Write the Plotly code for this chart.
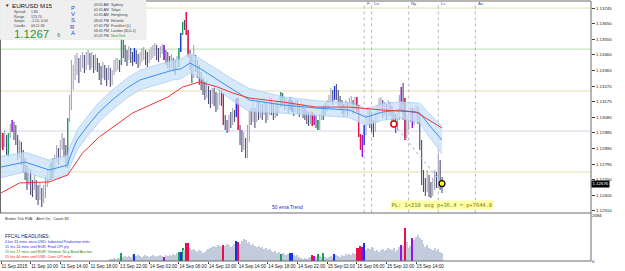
import plotly.graph_objects as go

# ---------------- data ----------------
close = [
1.12941,1.12911,1.12954,1.12880,1.12972,1.13015,1.13051,1.13002,1.12941,1.12880,
1.12911,1.12820,1.12789,1.12747,1.12698,1.12722,1.12667,1.12649,1.12686,1.12625,
1.12588,1.12637,1.12576,1.12606,1.12667,1.12710,1.12728,1.12789,1.12759,1.12820,
1.12868,1.12832,1.12893,1.12941,1.12880,1.12820,1.13063,1.13155,1.13276,1.13337,
1.13380,1.13429,1.13368,1.13416,1.13441,1.13398,1.13429,1.13459,1.13410,1.13441,
1.13392,1.13429,1.13398,1.13356,1.13337,1.13380,1.13349,1.13319,1.13368,1.13307,
1.13337,1.13380,1.13398,1.13416,1.13398,1.13550,1.13490,1.13459,1.13441,1.13477,
1.13453,1.13429,1.13465,1.13447,1.13416,1.13441,1.13459,1.13477,1.13447,1.13429,
1.13453,1.13471,1.13490,1.13502,1.13477,1.13459,1.13490,1.13514,1.13477,1.13441,
1.13429,1.13410,1.13429,1.13398,1.13380,1.13416,1.13490,1.13581,1.13648,1.13636,
1.13611,1.13459,1.13416,1.13337,1.13429,1.13398,1.13368,1.13319,1.13295,1.13258,
1.13234,1.13258,1.13209,1.13185,1.13222,1.13197,1.13155,1.13185,1.13215,1.13197,
1.13051,1.13033,1.13002,1.13063,1.13051,1.13094,1.13081,1.13185,1.13015,1.12972,
1.12911,1.12941,1.12850,1.12941,1.13094,1.13075,1.13112,1.13063,1.13155,1.13094,
1.13136,1.13112,1.13161,1.13075,1.13124,1.13185,1.13136,1.13094,1.13155,1.13124,
1.13173,1.13228,1.13185,1.13155,1.13167,1.13136,1.13173,1.13148,1.13124,1.13161,
1.13136,1.13112,1.13148,1.13112,1.13094,1.13075,1.13063,1.13088,1.13051,1.13075,
1.13033,1.13015,1.13063,1.13094,1.13142,1.13124,1.13155,1.13185,1.13215,1.13197,
1.13246,1.13234,1.13185,1.13173,1.13136,1.13112,1.13148,1.13124,1.13161,1.13185,
1.13136,1.13167,1.13124,1.12966,1.12893,1.12941,1.13002,1.13063,1.13112,1.13075,
1.13033,1.13002,1.13063,1.13124,1.13155,1.13185,1.13112,1.13136,1.13094,1.13155,
1.13124,1.13094,1.13063,1.13033,1.13075,1.13155,1.13215,1.13185,1.13002,1.13033,
1.13075,1.13112,1.13063,1.13094,1.13124,1.13075,1.12911,1.12698,1.12667,1.12637,
1.12710,1.12625,1.12606,1.12667,1.12728,1.12698,1.12820,1.12710,1.12676]

high = [
1.12990,1.12984,1.13002,1.12972,1.12984,1.13039,1.13063,1.13051,1.13033,1.12972,
1.12941,1.12929,1.12880,1.12832,1.12789,1.12771,1.12759,1.12698,1.12728,1.12698,
1.12667,1.12680,1.12649,1.12667,1.12728,1.12759,1.12789,1.12807,1.12832,1.12850,
1.12911,1.12893,1.12941,1.12984,1.12954,1.12911,1.13075,1.13215,1.13429,1.13398,
1.13459,1.13471,1.13441,1.13459,1.13477,1.13459,1.13477,1.13490,1.13471,1.13477,
1.13459,1.13465,1.13441,1.13410,1.13392,1.13416,1.13398,1.13380,1.13398,1.13380,
1.13368,1.13429,1.13441,1.13441,1.13429,1.13575,1.13538,1.13520,1.13490,1.13514,
1.13502,1.13477,1.13502,1.13490,1.13465,1.13477,1.13502,1.13508,1.13490,1.13477,
1.13490,1.13508,1.13520,1.13532,1.13520,1.13502,1.13514,1.13526,1.13520,1.13490,
1.13477,1.13453,1.13465,1.13441,1.13429,1.13453,1.13502,1.13593,1.13660,1.13672,
1.13721,1.13611,1.13490,1.13459,1.13520,1.13459,1.13429,1.13398,1.13356,1.13319,
1.13295,1.13307,1.13270,1.13246,1.13258,1.13258,1.13234,1.13228,1.13258,1.13246,
1.13228,1.13094,1.13063,1.13094,1.13112,1.13136,1.13124,1.13197,1.13197,1.13033,
1.13002,1.12990,1.12954,1.13033,1.13124,1.13136,1.13173,1.13136,1.13185,1.13173,
1.13185,1.13161,1.13197,1.13173,1.13167,1.13209,1.13197,1.13161,1.13185,1.13173,
1.13209,1.13234,1.13222,1.13203,1.13197,1.13185,1.13203,1.13185,1.13173,1.13191,
1.13185,1.13161,1.13185,1.13161,1.13136,1.13124,1.13112,1.13124,1.13112,1.13100,
1.13088,1.13063,1.13100,1.13136,1.13155,1.13167,1.13185,1.13215,1.13258,1.13246,
1.13270,1.13282,1.13246,1.13209,1.13185,1.13161,1.13185,1.13173,1.13197,1.13209,
1.13185,1.13203,1.13203,1.13155,1.12978,1.12972,1.13033,1.13094,1.13142,1.13124,
1.13112,1.13063,1.13112,1.13155,1.13197,1.13203,1.13185,1.13173,1.13161,1.13185,
1.13173,1.13148,1.13124,1.13100,1.13124,1.13215,1.13264,1.13289,1.13197,1.13094,
1.13124,1.13142,1.13136,1.13136,1.13155,1.13142,1.13094,1.12941,1.12759,1.12710,
1.12759,1.12728,1.12686,1.12710,1.12759,1.12747,1.12862,1.12820,1.12716]

low = [
1.12893,1.12880,1.12899,1.12850,1.12838,1.12954,1.12990,1.12941,1.12911,1.12820,
1.12832,1.12789,1.12740,1.12698,1.12637,1.12667,1.12606,1.12594,1.12637,1.12576,
1.12546,1.12576,1.12533,1.12558,1.12588,1.12655,1.12686,1.12698,1.12710,1.12747,
1.12807,1.12789,1.12820,1.12880,1.12832,1.12771,1.12771,1.13051,1.13124,1.13246,
1.13307,1.13337,1.13289,1.13356,1.13380,1.13349,1.13368,1.13398,1.13368,1.13380,
1.13349,1.13368,1.13356,1.13307,1.13276,1.13319,1.13307,1.13270,1.13307,1.13264,
1.13276,1.13337,1.13356,1.13368,1.13356,1.13398,1.13441,1.13416,1.13392,1.13429,
1.13410,1.13392,1.13416,1.13404,1.13380,1.13392,1.13416,1.13429,1.13398,1.13386,
1.13410,1.13429,1.13441,1.13453,1.13429,1.13416,1.13441,1.13465,1.13429,1.13398,
1.13380,1.13368,1.13380,1.13356,1.13337,1.13368,1.13386,1.13477,1.13581,1.13611,
1.13581,1.13447,1.13368,1.13289,1.13319,1.13356,1.13319,1.13276,1.13246,1.13215,
1.13185,1.13197,1.13161,1.13136,1.13161,1.13148,1.13112,1.13124,1.13155,1.13148,
1.13033,1.13002,1.12984,1.12990,1.13015,1.13033,1.13051,1.13081,1.13002,1.12911,
1.12868,1.12880,1.12832,1.12832,1.12929,1.13033,1.13051,1.13015,1.13051,1.13063,
1.13075,1.13063,1.13094,1.13045,1.13063,1.13094,1.13094,1.13063,1.13075,1.13088,
1.13112,1.13142,1.13148,1.13124,1.13124,1.13100,1.13124,1.13112,1.13088,1.13112,
1.13100,1.13081,1.13100,1.13075,1.13063,1.13039,1.13027,1.13039,1.13027,1.13033,
1.13015,1.13002,1.13002,1.13063,1.13063,1.13094,1.13112,1.13136,1.13167,1.13155,
1.13185,1.13185,1.13148,1.13124,1.13100,1.13081,1.13100,1.13088,1.13112,1.13124,
1.13100,1.13124,1.13112,1.12960,1.12880,1.12838,1.12911,1.12972,1.13033,1.13015,
1.12990,1.12960,1.12990,1.13051,1.13094,1.13124,1.13075,1.13088,1.13063,1.13075,
1.13088,1.13051,1.13015,1.12984,1.13002,1.13063,1.13124,1.13063,1.12941,1.12954,
1.13002,1.13051,1.13015,1.13033,1.13063,1.13039,1.12880,1.12667,1.12625,1.12600,
1.12625,1.12594,1.12588,1.12600,1.12637,1.12649,1.12649,1.12637,1.12619]

# tick volume (bars from vol_first_bar onward)
vol_first_bar = 59
volume = [
117,117,175,117,175,175,466,233,292,233,292,
233,350,408,292,350,292,233,292,350,292,
233,292,350,292,233,292,350,292,233,350,
292,350,292,408,350,466,525,525,758,641,
1049,1049,758,641,700,583,525,641,583,466,
525,641,700,758,816,875,816,933,875,816,
933,875,991,933,816,875,991,1166,1108,991,
1166,1283,1224,1049,1108,933,991,875,816,875,
758,816,700,758,641,700,583,525,583,466,
525,408,466,408,350,408,466,466,350,292,
350,233,175,117,175,117,175,233,350,292,
233,408,292,233,466,233,175,233,292,233,
408,350,292,233,350,292,408,350,408,350,
466,408,758,758,875,816,1049,641,758,700,
816,758,583,641,525,641,700,583,641,758,
700,641,758,525,641,816,933,875,1924,1108,
758,875,1341,1224,1399,1516,1341,1224,991,816,
933,758,700,641,758,583,700,525,466]
vol_max = 2684

# VSA signal bars (bar index lists per colour)
signal_bars = {
    "green":  [4, 27, 36, 65, 96, 98, 151, 171, 174],
    "red":    [1, 100, 101, 120, 128, 168, 192, 193, 194, 218],
    "blue":   [72, 97, 127, 156, 157, 180, 196],
    "purple": [6, 88, 169, 195, 216, 222],
}
signal_colors = {"green": "#16a05a", "red": "#e8104c", "blue": "#1432e6", "purple": "#9a14e0"}

# 50 ema trend (read at sample bars)
ema_bars = [0, 13, 26, 36, 37, 41, 48, 53, 60, 68, 75, 84, 93, 97, 102, 107, 117, 125, 134,
            152, 170, 188, 197, 206, 215, 226, 231, 238]
ema_vals = [1.12777, 1.12807, 1.12759, 1.12789, 1.12832, 1.12941, 1.13045, 1.13112, 1.13185,
            1.13258, 1.13307, 1.13337, 1.13368, 1.13374, 1.13410, 1.13380, 1.13307, 1.13246,
            1.13185, 1.13155, 1.13136, 1.13124, 1.13081, 1.13112, 1.13124, 1.13106, 1.13033,
            1.12941]
ema_band = [0.00065, 0.0006, 0.0006, 0.0006, 0.0006, 0.0006, 0.0006, 0.0006, 0.0006,
            0.0006, 0.0006, 0.0006, 0.0006, 0.0006, 0.0006, 0.0006, 0.0006, 0.00065,
            0.0007, 0.0005, 0.00045, 0.00045, 0.0005, 0.0005, 0.0005, 0.0006, 0.0007,
            0.00085]
ma_bars = [0, 10, 26, 36, 44, 53, 71, 90, 98, 107, 117, 125, 134, 152, 170, 188, 206, 224, 231, 238]
ma_vals = [1.12619, 1.12680, 1.12686, 1.12728, 1.12862, 1.12960, 1.13106, 1.13203, 1.13264,
           1.13295, 1.13264, 1.13228, 1.13197, 1.13173, 1.13142, 1.13142, 1.13124, 1.13112,
           1.13063, 1.13015]

pivot_levels = [1.13745, 1.13495, 1.13240, 1.12996, 1.12747]
pivot_colors = ["#e6dfb4", "#b4e0b4", "#e6dfb4", "#d4d4f2", "#e6dfb4"]

session_bars = [196, 200, 220, 236, 256]
session_names = ["F", "Lo", "Ny", "Lc", "Au"]

trade_open = (212, 1.13039)
trade_now = (238, 1.12676)

price_ticks = [1.13745, 1.13650, 1.13555, 1.13460, 1.13365, 1.13270, 1.13175, 1.13080,
               1.12985, 1.12890, 1.12795, 1.12700, 1.12605, 1.12510]
time_tick_bars = [0, 16, 32, 48, 64, 80, 96, 112, 128, 144, 160, 176, 192, 208, 224]
time_tick_text = ["11 Sep 2015", "11 Sep 10:00", "11 Sep 14:00", "11 Sep 18:00", "13 Sep 22:00",
                  "14 Sep 02:00", "14 Sep 06:00", "14 Sep 10:00", "14 Sep 14:00", "14 Sep 18:00",
                  "14 Sep 22:00", "15 Sep 02:00", "15 Sep 06:00", "15 Sep 10:00", "15 Sep 14:00"]

info_labels = ["Spread", "Range", "Swaps", "Candle"]
info_values = ["1.80", "123.70", "-2.10, 0.04", "00:11:38"]
city_times = ["03:45 AM", "02:45 AM", "01:45 AM", "08:45 PM", "07:45 PM", "06:45 PM", "01:45 PM"]
city_names = ["Sydney", "Tokyo", "Hongkong", "Helsinki", "Frankfurt (L)", "London (B,0+1)", "NewYork"]
headlines = ["4 hrs 31 mins since USD: Industrial Production m/m",
             "15 hrs 14 mins until EUR: Final CPI y/y",
             "15 hrs 17 mins until EUR: German 30-y Bond Auction",
             "15 hrs 44 mins until USD: Core CPI m/m"]
headline_colors = ["#2a2ae0", "#2a2ae0", "#1a8a1a", "#ee2020"]

# ---------------- figure ----------------
W, H = 625, 271
PLOT_W, PLOT_H = 591, 261
FONT = "Liberation Sans"

n = len(close)
idx = list(range(n))
opn = [close[0]] + close[:-1]
high = [max(h, o, c) for h, o, c in zip(high, opn, close)]
low = [min(l, o, c) for l, o, c in zip(low, opn, close)]

def py2paper(py):
    return 1 - py / PLOT_H

def px2paper(px):
    return px / PLOT_W

fig = go.Figure()

# EMA band
upper = [v + b for v, b in zip(ema_vals, ema_band)]
lower = [v - b for v, b in zip(ema_vals, ema_band)]
fig.add_trace(go.Scatter(x=ema_bars, y=upper, mode="lines", line=dict(color="#a9cdf2", width=0.8),
                         xaxis="x2", yaxis="y", hoverinfo="skip", showlegend=False))
fig.add_trace(go.Scatter(x=ema_bars, y=lower, mode="lines", line=dict(color="#a9cdf2", width=0.8),
                         fill="tonexty", fillcolor="rgba(200,225,250,0.75)",
                         xaxis="x2", yaxis="y", hoverinfo="skip", showlegend=False))
fig.add_trace(go.Scatter(x=ema_bars, y=ema_vals, mode="lines", line=dict(color="#3a8ef0", width=1),
                         xaxis="x2", yaxis="y", hoverinfo="skip", showlegend=False))
fig.add_trace(go.Scatter(x=ma_bars, y=ma_vals, mode="lines", line=dict(color="#f03434", width=1),
                         xaxis="x2", yaxis="y", hoverinfo="skip", showlegend=False))

# price bars
fig.add_trace(go.Ohlc(x=idx, open=opn, high=high, low=low, close=close, tickwidth=0,
                      increasing=dict(line=dict(color="#a6a6ba", width=1.1)),
                      decreasing=dict(line=dict(color="#4c4c76", width=1.1)),
                      xaxis="x2", yaxis="y", hoverinfo="skip", showlegend=False))
for key, bars in signal_bars.items():
    c = signal_colors[key]
    fig.add_trace(go.Ohlc(x=bars, open=[opn[i] for i in bars], high=[high[i] for i in bars],
                          low=[low[i] for i in bars], close=[close[i] for i in bars], tickwidth=0,
                          increasing=dict(line=dict(color=c, width=1.3)),
                          decreasing=dict(line=dict(color=c, width=1.3)),
                          xaxis="x2", yaxis="y", hoverinfo="skip", showlegend=False))

# trade line + markers
fig.add_trace(go.Scatter(x=[trade_open[0], trade_now[0]], y=[trade_open[1], trade_now[1]],
                         mode="lines", line=dict(color="#8fb2e6", width=1, dash="dot"),
                         xaxis="x2", yaxis="y", hoverinfo="skip", showlegend=False))
fig.add_trace(go.Scatter(x=[trade_open[0]], y=[trade_open[1]], mode="markers",
                         marker=dict(size=6, color="white", line=dict(color="#d01010", width=1.6)),
                         xaxis="x2", yaxis="y", hoverinfo="skip", showlegend=False))
fig.add_trace(go.Scatter(x=[trade_now[0]], y=[trade_now[1]], mode="markers",
                         marker=dict(size=6, color="#ffff00", line=dict(color="black", width=1.2)),
                         xaxis="x2", yaxis="y", hoverinfo="skip", showlegend=False))

# volume
vol_x = list(range(vol_first_bar, vol_first_bar + len(volume)))
color_of = {}
for key, bars in signal_bars.items():
    for b in bars:
        color_of[b] = signal_colors[key]
vol_colors = [color_of.get(b, "#c2cbdc") for b in vol_x]
fig.add_trace(go.Bar(x=vol_x, y=volume, width=0.6, marker=dict(color=vol_colors, line=dict(width=0)),
                     xaxis="x", yaxis="y2", hoverinfo="skip", showlegend=False))

x_range = [-0.54, 318.4]
main_dom = [py2paper(212.5), py2paper(2)]
vol_dom = [0, py2paper(215)]

fig.update_layout(
    width=W, height=H, margin=dict(l=0, r=W - PLOT_W, t=0, b=H - PLOT_H, autoexpand=False),
    paper_bgcolor="white", plot_bgcolor="white", showlegend=False,
    font=dict(family=FONT, size=5, color="#202020"),
    bargap=0,
    xaxis=dict(domain=[0, 1], anchor="y2", range=x_range, showgrid=False, zeroline=False,
               tickmode="array", tickvals=time_tick_bars, ticktext=time_tick_text, tickangle=0,
               ticks="outside", ticklen=2, tickcolor="#404040", ticklabelposition="outside right",
               tickfont=dict(size=4.6, color="#202020", family=FONT), rangeslider=dict(visible=False),
               showline=False, automargin=False),
    xaxis2=dict(domain=[0, 1], anchor="y", matches="x", range=x_range, showgrid=False, zeroline=False,
                showticklabels=False, ticks="", rangeslider=dict(visible=False), showline=False,
                automargin=False),
    yaxis=dict(domain=main_dom, anchor="x2", side="right", range=[1.12500, 1.13782],
               showgrid=False, zeroline=False, tickmode="array", tickvals=price_ticks,
               tickformat=".5f", ticks="outside", ticklen=3, tickcolor="#404040",
               tickfont=dict(size=4.4, color="#202020", family=FONT), showline=False,
               automargin=False),
    yaxis2=dict(domain=vol_dom, anchor="x", side="right", range=[0, vol_max],
                showgrid=False, zeroline=False, tickmode="array", tickvals=[0, vol_max],
                ticktext=["0", str(vol_max)], ticks="", ticklen=0,
                tickfont=dict(size=4.4, color="#202020", family=FONT), showline=False,
                automargin=False),
)

shapes = []
# pivot levels
for lvl, col in zip(pivot_levels, pivot_colors):
    shapes.append(dict(type="line", xref="x2 domain", yref="y", x0=0, x1=1, y0=lvl, y1=lvl,
                       line=dict(color=col, width=1), layer="below"))
# session lines
for b in session_bars:
    shapes.append(dict(type="line", xref="x2", yref="y domain", x0=b, x1=b, y0=0, y1=0.985,
                       line=dict(color="#b8b8b8", width=1, dash="dot"), layer="below"))
# frame lines
frame_col = "#6a6a6a"
shapes += [
    dict(type="line", xref="paper", yref="paper", x0=0, x1=1, y0=py2paper(1), y1=py2paper(1),
         line=dict(color=frame_col, width=1)),
    dict(type="line", xref="paper", yref="paper", x0=px2paper(0.5), x1=px2paper(0.5),
         y0=py2paper(1), y1=py2paper(213), line=dict(color=frame_col, width=1)),
    dict(type="line", xref="paper", yref="paper", x0=0, x1=1, y0=py2paper(213), y1=py2paper(213),
         line=dict(color=frame_col, width=1)),
    dict(type="line", xref="paper", yref="paper", x0=0, x1=1, y0=0, y1=0,
         line=dict(color=frame_col, width=1)),
    dict(type="line", xref="paper", yref="paper", x0=1, x1=1, y0=0, y1=py2paper(1),
         line=dict(color=frame_col, width=1)),
]
# info panel box
shapes.append(dict(type="rect", xref="paper", yref="paper", x0=0, x1=px2paper(146),
                   y0=py2paper(39.5), y1=1, fillcolor="#efefef", line=dict(color="#e0e0e0", width=0.5),
                   layer="above"))
fig.update_layout(shapes=shapes)

ann = []
def txt(px, py, s, size, color="#303030", anchor="left", family=FONT, **kw):
    ann.append(dict(xref="paper", yref="paper", x=px2paper(px), y=py2paper(py), text=s,
                    showarrow=False, xanchor=anchor, yanchor="middle",
                    font=dict(size=size, color=color, family=family), **kw))

# info panel text
txt(2.5, 5.5, "▼", 4.5, "#202020")
txt(10, 5.8, "EURUSD", 6.2, "#101010")
txt(38, 5.8, "M15", 6.2, "#101010")
for k, (lab, val) in enumerate(zip(info_labels, info_values)):
    txt(12, 12.3 + k * 4.5, lab, 3.5, "#404040")
    txt(29, 12.3 + k * 4.5, val, 3.5, "#404040")
txt(12, 34, "1.1267", 11.5, "#2c9a2c")
txt(55, 35, "6", 6, "#2c9a2c")
for k, ch in enumerate("PVSRA"):
    txt(72.5, 8 + k * 6.2, ch, 6, "#2a44c8", anchor="center")
for k, (t, c) in enumerate(zip(city_times, city_names)):
    yy = 5 + k * 5.2
    txt(91.5, yy, t, 3.5, "#404040")
    txt(109, yy, c, 3.6, "#2a9a2a" if c == "NewYork" else "#404040")

# session labels
for b, name in zip(session_bars, session_names):
    ann.append(dict(xref="x2", yref="paper", x=b, y=py2paper(3.5), text=name, showarrow=False,
                    xanchor="left", yanchor="middle", xshift=0.5,
                    font=dict(size=4.3, color="#3848a8", family=FONT)))

# chart texts
txt(270, 207, "50 ema Trend", 5, "#2828c8")
txt(390, 205, "PL: 1<210 avg p+36.4 = p+7644.0", 5.4, "#7a7a10", family="DejaVu Sans Mono",
    bgcolor="#ffffa6", borderpad=0.5)
txt(3, 219, "Broker Tick FVA:   Alert On,  Count 83", 3.8, "#303030")
txt(3, 236.5, "FFCAL HEADLINES:", 4.8, "#202060")
for k, (h, c) in enumerate(zip(headlines, headline_colors)):
    txt(3, 242 + k * 5, h, 3.7, c)

# current price box
ann.append(dict(xref="paper", yref="y", x=1, y=close[-1], text=f"{close[-1]:.5f}", showarrow=False,
                xanchor="left", yanchor="middle", bgcolor="#000000", borderpad=0.4,
                font=dict(size=4.4, color="white", family=FONT)))
fig.update_layout(annotations=ann)

fig.write_html("out.html")
